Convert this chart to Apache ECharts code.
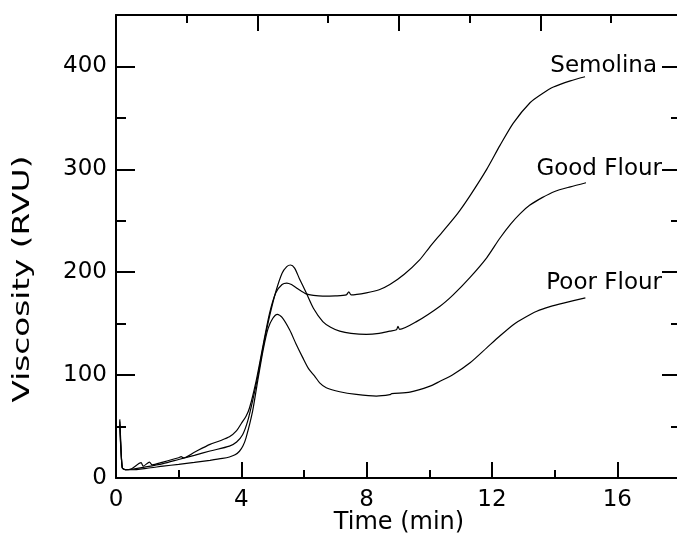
<!DOCTYPE html>
<html><head><meta charset="utf-8">
<script src="https://cdn.jsdelivr.net/npm/echarts@6/dist/echarts.min.js"></script>
<style>html,body{margin:0;padding:0;background:#fff}#c{width:677px;height:534px}</style>
</head><body><div id="c"></div>
<script>
// ---- data (time in min, viscosity in RVU) ----
const seriesNames = ['Semolina', 'Good Flour', 'Poor Flour'];

const semolinaTime = [0.12,0.16,0.2,0.3,0.5,0.8,0.87,1.07,1.15,1.5,2.0,2.08,2.15,2.5,3.0,3.3,3.62,3.85,4.0,4.15,4.26,4.47,4.7,4.9,5.1,5.3,5.45,5.6,5.8,6.07,6.3,6.6,7.0,7.35,7.43,7.5,7.99,8.4,8.74,9.2,9.69,10.0,10.44,10.9,11.29,11.83,12.25,12.68,13.22,13.6,13.96,14.5,14.97];
const semolinaVisc = [57,30,10,8,9,14.9,11.5,15.5,12.8,15.5,19.7,20.7,19.5,25,32.7,36,40,46,53,60,68,94,130,160,180,188,189.5,188,184,179,177.5,176.7,177,178,181,178,180,183,188,198,212,224,240,257,274,300,323,345,365,373.5,380,386,390];

const goodTime = [0.12,0.2,0.3,0.5,1.0,1.5,2.0,2.5,3.0,3.62,3.85,4.04,4.2,4.36,4.52,4.7,4.9,5.1,5.3,5.45,5.57,5.7,5.85,6.07,6.3,6.6,6.85,7.14,7.5,7.99,8.4,8.74,8.95,9.0,9.05,9.59,10.34,10.76,11.3,11.83,12.25,12.6,12.9,13.2,13.6,14.0,14.5,15.0];
const goodVisc = [55,10,8,8.5,11,14,18,22,26.2,31,35,42,55,75,98,128,157,181,199,205.5,207,204,194,180,165,152,146.5,142.7,140.5,139.5,140.5,142.7,144,147.5,144.5,152,167,178,195,214,233,247,257,265,272.5,278.5,283,287];

const poorTime = [0.12,0.2,0.3,0.5,1.0,1.5,2.0,2.5,3.0,3.4,3.62,3.8,3.94,4.05,4.15,4.36,4.52,4.7,4.85,5.0,5.15,5.3,5.54,5.75,5.96,6.15,6.34,6.5,6.71,7.14,7.67,8.31,8.74,8.8,9.38,10.0,10.34,10.76,11.3,11.83,12.25,12.68,13.05,13.43,13.85,14.28,14.98];
const poorVisc = [52,10,8,8,9.5,11.5,13.3,15.2,17.2,19,20.4,22.5,26,31,39,65,94,125,145,155,159,156,144,130,117,106,99,92.5,87.7,83.8,81.2,79.6,81,82,83.5,89,94,100.6,112,126.5,138,149,156,162,166.5,170,175];

const xTitle = 'Time (min)';
const yTitle = 'Viscosity (RVU)';

// ---- build ----
const pairs = (t, v) => t.map((x, i) => [x, v[i]]);
const FONT = 'DejaVu Sans';
const black = '#000';
const line2 = {lineStyle: {color: black, width: 2}};

function tickAxis(extra) {
  return Object.assign({
    type: 'value',
    splitLine: {show: false},
    axisLabel: {show: false},
    axisLine: {show: false, onZero: false},
    axisPointer: {show: false}
  }, extra);
}

const chart = echarts.init(document.getElementById('c'), null, {renderer: 'canvas'});
const mk = (name, t, v) => ({
  name, type: 'line', xAxisIndex: 0, yAxisIndex: 0,
  data: pairs(t, v), showSymbol: false, symbol: 'none',
  smooth: 0.25, silent: true,
  lineStyle: {color: black, width: 1.2}
});

chart.setOption({
  animation: false,
  backgroundColor: '#fff',
  grid: {left: 116, top: 15, width: 564, height: 463, containLabel: false, outerBoundsMode: 'none'},
  xAxis: [
    tickAxis({position: 'bottom', min: 0, max: 18, interval: 4,
      axisLine: Object.assign({show: true, onZero: false}, line2),
      axisTick: {show: true, inside: true, length: 16, lineStyle: {color: black, width: 2}},
      axisLabel: {show: true, color: black, fontFamily: FONT, fontSize: 23, margin: 11, showMaxLabel: false}}),
    tickAxis({position: 'bottom', min: 0, max: 18, interval: 2,
      axisTick: {show: true, inside: true, length: 8, lineStyle: {color: black, width: 2}}}),
    tickAxis({position: 'top', min: 0, max: 3.986, interval: 1,
      axisLine: Object.assign({show: true, onZero: false}, line2),
      axisTick: {show: true, inside: true, length: 16, lineStyle: {color: black, width: 2}}}),
    tickAxis({position: 'top', min: 0, max: 3.986, interval: 0.5,
      axisTick: {show: true, inside: true, length: 8, lineStyle: {color: black, width: 2}}})
  ],
  yAxis: [
    tickAxis({position: 'left', min: 0, max: 450, interval: 100,
      axisLine: Object.assign({show: true, onZero: false}, line2),
      axisTick: {show: true, inside: true, length: 19, lineStyle: {color: black, width: 2}},
      axisLabel: {show: true, color: black, fontFamily: FONT, fontSize: 23, margin: 9, showMaxLabel: false}}),
    tickAxis({position: 'left', min: 0, max: 450, interval: 50,
      axisTick: {show: true, inside: true, length: 10, lineStyle: {color: black, width: 2}}}),
    tickAxis({position: 'right', min: 0, max: 450, interval: 100,
      axisLine: Object.assign({show: true, onZero: false}, line2),
      axisTick: {show: true, inside: true, length: 18, lineStyle: {color: black, width: 2}}}),
    tickAxis({position: 'right', min: 0, max: 450, interval: 50,
      axisTick: {show: true, inside: true, length: 9, lineStyle: {color: black, width: 2}}})
  ],
  series: [
    mk(seriesNames[0], semolinaTime, semolinaVisc),
    mk(seriesNames[1], goodTime, goodVisc),
    mk(seriesNames[2], poorTime, poorVisc)
  ],
  graphic: [
    {type: 'text', x: 23, y: 279, rotation: Math.PI / 2, scaleX: 1.42, silent: true,
      style: {text: yTitle, fontFamily: FONT, fontSize: 23, fill: black,
        align: 'center', verticalAlign: 'middle', textAlign: 'center', textVerticalAlign: 'middle'}},
    {type: 'text', x: 399, y: 523, silent: true,
      style: {text: xTitle, fontFamily: FONT, fontSize: 24, fill: black,
        align: 'center', verticalAlign: 'middle', textAlign: 'center', textVerticalAlign: 'middle'}},
    {type: 'text', x: 657, y: 66, silent: true,
      style: {text: seriesNames[0], fontFamily: FONT, fontSize: 23, fill: black,
        align: 'right', verticalAlign: 'middle', textAlign: 'right', textVerticalAlign: 'middle'}},
    {type: 'text', x: 662, y: 169.5, silent: true,
      style: {text: seriesNames[1], fontFamily: FONT, fontSize: 23, fill: black,
        align: 'right', verticalAlign: 'middle', textAlign: 'right', textVerticalAlign: 'middle'}},
    {type: 'text', x: 662, y: 283.5, silent: true,
      style: {text: seriesNames[2], fontFamily: FONT, fontSize: 23, fill: black,
        align: 'right', verticalAlign: 'middle', textAlign: 'right', textVerticalAlign: 'middle'}}
  ]
});
</script>
</body></html>
